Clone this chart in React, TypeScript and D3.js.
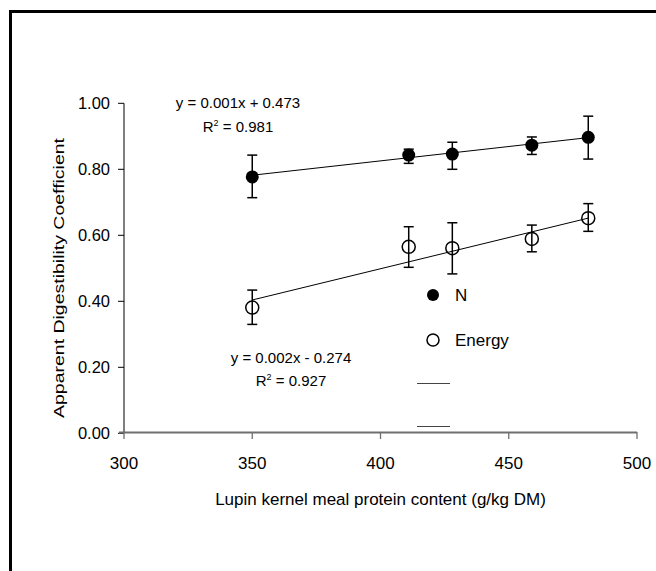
import React from "react";
import * as d3 from "d3";

const proteinContent = [350, 411, 428, 459, 481];
const nMean = [0.777, 0.843, 0.846, 0.873, 0.897];
const nLow = [0.714, 0.818, 0.8, 0.845, 0.831];
const nHigh = [0.843, 0.861, 0.882, 0.898, 0.961];
const eMean = [0.381, 0.565, 0.561, 0.589, 0.652];
const eLow = [0.33, 0.503, 0.483, 0.55, 0.612];
const eHigh = [0.434, 0.626, 0.638, 0.631, 0.696];
const nFitX = [350, 481];
const nFitY = [0.782, 0.896];
const eFitX = [350, 481];
const eFitY = [0.404, 0.652];
const xTicks = [300, 350, 400, 450, 500];
const yTicks = [0, 0.2, 0.4, 0.6, 0.8, 1.0];
const seriesNames = ["N", "Energy"];

const FONT = "'Liberation Sans', Arial, sans-serif";

export default function App() {
  const x = d3.scaleLinear().domain([300, 500]).range([124, 637]);
  const y = d3.scaleLinear().domain([0, 1]).range([433.3, 103.3]);
  const line = d3
    .line<[number, number]>()
    .x((d) => x(d[0]))
    .y((d) => y(d[1]));
  const nFit: [number, number][] = nFitX.map((v, i) => [v, nFitY[i]]);
  const eFit: [number, number][] = eFitX.map((v, i) => [v, eFitY[i]]);
  const r = 6.5;
  const cap = 5;

  const errBars = (low: number[], high: number[], key: string) =>
    proteinContent.map((px, i) => (
      <g key={key + i} stroke="#000" strokeWidth={1.5}>
        <line x1={x(px)} x2={x(px)} y1={y(low[i])} y2={y(high[i])} />
        <line x1={x(px) - cap} x2={x(px) + cap} y1={y(low[i])} y2={y(low[i])} />
        <line x1={x(px) - cap} x2={x(px) + cap} y1={y(high[i])} y2={y(high[i])} />
      </g>
    ));

  return (
    <svg
      width={656}
      height={571}
      style={{ position: "absolute", left: 0, top: 0, background: "#fff" }}
      fontFamily={FONT}
    >
      <rect x={0} y={0} width={656} height={571} fill="#fff" />
      <rect x={10.5} y={11.5} width={700} height={620} fill="none" stroke="#000" strokeWidth={3} />

      {/* y axis */}
      <line x1={124} x2={124} y1={y(1)} y2={y(0)} stroke="#000" strokeWidth={1} />
      {yTicks.map((t) => (
        <g key={"yt" + t}>
          <line x1={118} x2={124} y1={y(t)} y2={y(t)} stroke="#000" strokeWidth={1} />
          <text x={110} y={y(t)} dy="0.35em" textAnchor="end" fontSize={16.5} fill="#000">
            {t.toFixed(2)}
          </text>
        </g>
      ))}
      {/* x axis */}
      <line x1={119} x2={x(500)} y1={432.5} y2={432.5} stroke="#6f6f6f" strokeWidth={2} />
      {xTicks.map((t) => (
        <g key={"xt" + t}>
          <line x1={x(t)} x2={x(t)} y1={432} y2={439} stroke="#6f6f6f" strokeWidth={1.3} />
          <text x={x(t)} y={469} textAnchor="middle" fontSize={17} fill="#000">
            {t}
          </text>
        </g>
      ))}
      <text x={380.5} y={505} textAnchor="middle" fontSize={17} fill="#000">
        Lupin kernel meal protein content (g/kg DM)
      </text>
      <text
        transform={`translate(64,278) rotate(-90)`}
        textAnchor="middle"
        fontSize={15.5}
        textLength={280}
        lengthAdjust="spacingAndGlyphs"
        fill="#000"
      >
        Apparent Digestibility Coefficient
      </text>

      {/* regression lines */}
      <path d={line(nFit) || ""} fill="none" stroke="#000" strokeWidth={1} />
      <path d={line(eFit) || ""} fill="none" stroke="#000" strokeWidth={1} />

      {/* error bars */}
      {errBars(nLow, nHigh, "n")}
      {errBars(eLow, eHigh, "e")}

      {/* points */}
      {proteinContent.map((px, i) => (
        <circle key={"np" + i} cx={x(px)} cy={y(nMean[i])} r={r} fill="#000" />
      ))}
      {proteinContent.map((px, i) => (
        <circle
          key={"ep" + i}
          cx={x(px)}
          cy={y(eMean[i])}
          r={r}
          fill="none"
          stroke="#000"
          strokeWidth={1.5}
        />
      ))}

      {/* equations */}
      <text x={238} y={108} textAnchor="middle" fontSize={15} fill="#000">
        y = 0.001x + 0.473
      </text>
      <text x={238} y={132} textAnchor="middle" fontSize={15} fill="#000">
        R<tspan dy={-6} fontSize={9}>2</tspan>
        <tspan dy={6}> = 0.981</tspan>
      </text>
      <text x={291} y={363} textAnchor="middle" fontSize={15} fill="#000">
        y = 0.002x - 0.274
      </text>
      <text x={291} y={386} textAnchor="middle" fontSize={15} fill="#000">
        R<tspan dy={-6} fontSize={9}>2</tspan>
        <tspan dy={6}> = 0.927</tspan>
      </text>

      {/* legend */}
      <circle cx={433} cy={295} r={6} fill="#000" />
      <text x={455} y={301} fontSize={17} fill="#000">
        {seriesNames[0]}
      </text>
      <circle cx={433} cy={340} r={6} fill="#fff" stroke="#000" strokeWidth={1.5} />
      <text x={455} y={346} fontSize={17} fill="#000">
        {seriesNames[1]}
      </text>
      <line x1={417} x2={450} y1={383.5} y2={383.5} stroke="#444" strokeWidth={1} />
      <line x1={417} x2={450} y1={426.5} y2={426.5} stroke="#444" strokeWidth={1} />
    </svg>
  );
}
